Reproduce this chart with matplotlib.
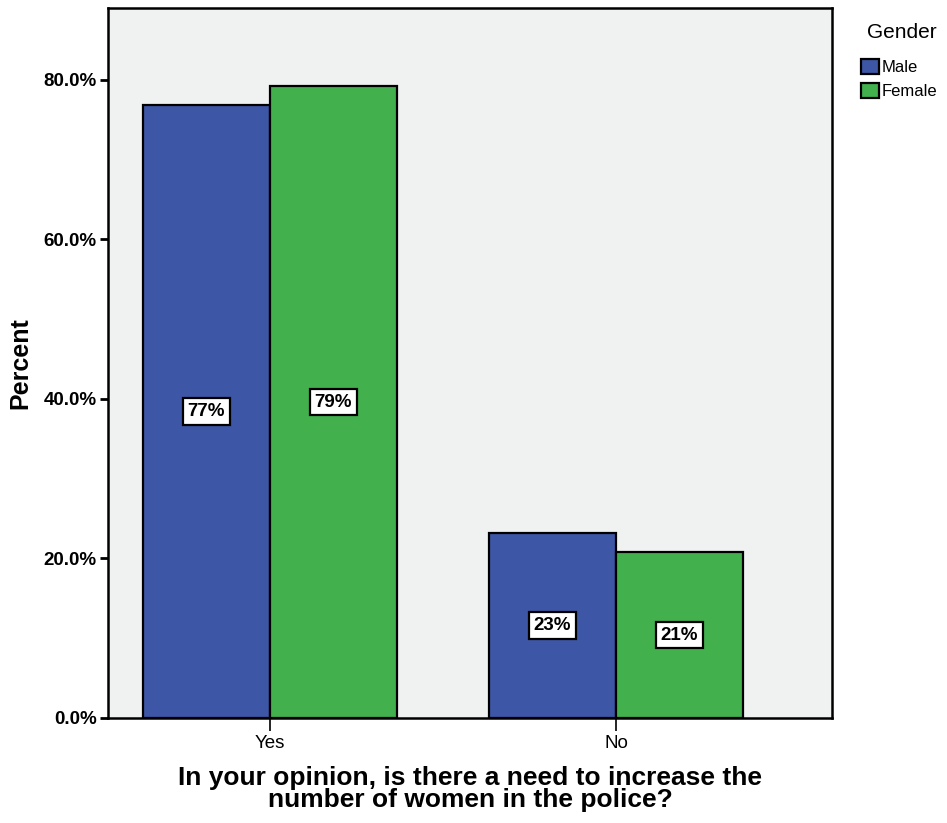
import numpy as np
import matplotlib
matplotlib.use("Agg")
import matplotlib.pyplot as plt
from matplotlib.ticker import FuncFormatter

plt.rcParams['font.family'] = ['Liberation Sans', 'DejaVu Sans']

# data
answers = ["Yes", "No"]
genders = ["Male", "Female"]
male_pct = [76.8, 23.2]
female_pct = [79.2, 20.8]
male_labels = ["77%", "23%"]
female_labels = ["79%", "21%"]

blue = "#3d56a5"
green = "#42b04d"

fig = plt.figure(figsize=(9.47, 8.23), dpi=100)
ax = fig.add_axes([0.114, 0.1276, 0.7646, 0.8627])
ax.set_facecolor("#f0f1f1")

x = np.arange(len(answers))
w = 0.367
b1 = ax.bar(x - w/2, male_pct, w, color=blue, edgecolor="black", linewidth=1.6, label=genders[0])
b2 = ax.bar(x + w/2, female_pct, w, color=green, edgecolor="black", linewidth=1.6, label=genders[1])

box = dict(boxstyle="square,pad=0.25", facecolor="white", edgecolor="black", linewidth=1.6)
for bars, labs in [(b1, male_labels), (b2, female_labels)]:
    for r, lab in zip(bars, labs):
        ax.text(r.get_x() + r.get_width()/2, r.get_height()/2, lab,
                ha="center", va="center", fontsize=13.5, fontweight="bold", bbox=box)

ax.set_xlim(-0.468, 1.624)
ax.set_ylim(0, 89)
ax.set_yticks([0, 20, 40, 60, 80])
ax.yaxis.set_major_formatter(FuncFormatter(lambda v, p: f"{v:.1f}%"))
ax.set_xticks(x)
ax.set_xticklabels(answers, fontsize=13.5)
for t in ax.get_yticklabels():
    t.set_fontsize(13.5)
    t.set_fontweight("bold")
ax.tick_params(axis="y", length=6, width=2, pad=2)
ax.tick_params(axis="x", length=9, width=1.2, pad=3)
for s in ax.spines.values():
    s.set_linewidth(1.8)

ax.set_ylabel("Percent", fontsize=18, fontweight="bold", labelpad=8)
ax.set_xlabel("In your opinion, is there a need to increase the\nnumber of women in the police?",
              fontsize=19, fontweight="bold", labelpad=10, linespacing=0.9)

leg = fig.legend(handles=[b1, b2], title="Gender", loc="upper left",
                 bbox_to_anchor=(0.9005, 0.982), frameon=False, fontsize=12,
                 title_fontsize=15, handlelength=1.05, handleheight=1.05,
                 handletextpad=0.2, labelspacing=0.45, borderpad=0)
leg._legend_box.align = "left"
leg._legend_box.sep = 12
leg.get_title().set_position((6, 0))

fig.savefig("out.png", dpi=100)
